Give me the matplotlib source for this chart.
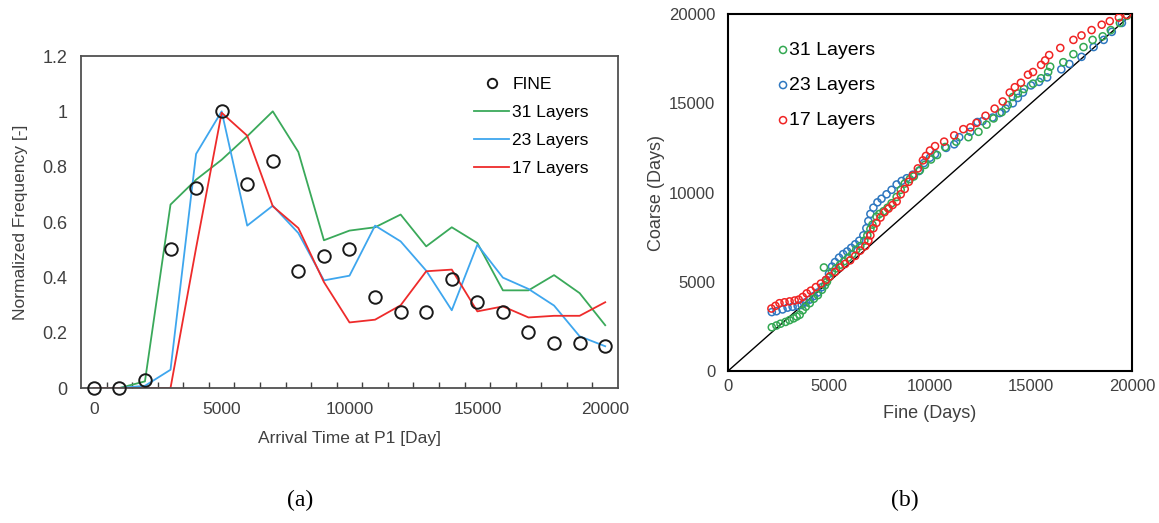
import matplotlib
matplotlib.use("Agg")
import matplotlib.pyplot as plt
from matplotlib.ticker import FixedLocator, FixedFormatter

plt.rcParams['font.family'] = ['Liberation Sans', 'DejaVu Sans']

# ---------------- (a) data ----------------
arrival_time = [0, 1000, 2000, 3000, 4000, 5000, 6000, 7000, 8000, 9000, 10000,
                11000, 12000, 13000, 14000, 15000, 16000, 17000, 18000, 19000, 20000]
fine_freq = [0.0, 0.0, 0.028, 0.504, 0.723, 1.0, 0.739, 0.819, 0.424, 0.478, 0.504,
             0.328, 0.273, 0.273, 0.395, 0.311, 0.273, 0.202, 0.163, 0.163, 0.151]
l31_freq = [0.0, 0.0, 0.024, 0.663, 0.753, 0.825, 0.91, 1.0, 0.853, 0.534, 0.569,
            0.581, 0.627, 0.512, 0.581, 0.524, 0.353, 0.353, 0.408, 0.343, 0.227]
l23_freq = [0.0, 0.0, 0.008, 0.066, 0.846, 1.0, 0.587, 0.659, 0.56, 0.389, 0.406,
            0.587, 0.53, 0.424, 0.281, 0.518, 0.399, 0.358, 0.298, 0.187, 0.151]
l17_freq = [0.0, 0.0, 0.0, 0.0, 0.506, 0.995, 0.912, 0.657, 0.578, 0.383, 0.237,
            0.247, 0.299, 0.422, 0.428, 0.277, 0.295, 0.255, 0.261, 0.261, 0.31]

# ---------------- (b) data ----------------
fine_31 = [2170, 2400, 2600, 2850, 3050, 3250, 3400, 3550, 3700, 3850, 4050, 4250, 4450,
           4650, 4800, 4900, 5000, 4750, 5150, 5350, 5550, 5750, 5950, 6150, 6350, 6550,
           6750, 6900, 7050, 7150, 7350, 7500, 7700, 7900, 8100, 8350, 8550, 8750, 9000,
           9200, 9500, 9750, 10050, 10350, 10750, 11300, 11900, 12400, 12800, 13150,
           13550, 13850, 14100, 14350, 14650, 15100, 15500, 15850, 15950, 16600, 17100,
           17600, 18050, 18550, 18950, 19400, 19750]
coarse_31 = [2450, 2550, 2650, 2750, 2850, 2950, 3050, 3150, 3400, 3600, 3800, 4050, 4250,
             4550, 4800, 5000, 5250, 5800, 5550, 5750, 5950, 6150, 6350, 6550, 6800, 7000,
             7300, 7600, 7950, 8200, 8650, 8800, 8950, 9150, 9400, 9750, 10150, 10500,
             10750, 10900, 11250, 11550, 11850, 12100, 12550, 12850, 13100, 13400, 13800,
             14150, 14500, 14900, 15350, 15550, 15800, 16100, 16400, 16750, 17050, 17300,
             17750, 18150, 18550, 18750, 19100, 19500, 19900]

fine_23 = [2170, 2400, 2700, 2950, 3200, 3450, 3650, 3850, 4050, 4250, 4450, 4650, 4850,
           5000, 5150, 5300, 5500, 5700, 5900, 6100, 6300, 6500, 6700, 6850, 6950, 7050,
           7200, 7400, 7600, 7850, 8100, 8350, 8600, 8850, 9150, 9450, 9700, 10000, 10250,
           10800, 11200, 11450, 12000, 12350, 12600, 13100, 13450, 13750, 14100, 14350,
           14600, 15000, 15400, 15800, 16500, 16900, 17500, 18100, 18600, 19000, 19500]
coarse_23 = [3300, 3350, 3450, 3550, 3600, 3650, 3700, 3850, 4000, 4200, 4400, 4700, 5100,
             5450, 5850, 6100, 6350, 6550, 6700, 6900, 7100, 7300, 7600, 8000, 8400, 8800,
             9150, 9450, 9650, 9900, 10150, 10450, 10650, 10800, 11000, 11200, 11650,
             11950, 12150, 12500, 12700, 13100, 13400, 13950, 14000, 14200, 14450, 14700,
             15000, 15300, 15600, 16000, 16200, 16450, 16900, 17200, 17600, 18150, 18550,
             19000, 19500]

fine_17 = [2150, 2350, 2550, 2800, 3050, 3300, 3500, 3700, 3900, 4100, 4350, 4600, 4850,
           5050, 5300, 5550, 5800, 6050, 6300, 6550, 6800, 6950, 7050, 7200, 7350, 7550,
           7750, 7950, 8150, 8350, 8550, 8750, 8950, 9150, 9400, 9650, 9800, 10000, 10250,
           10700, 11200, 11650, 12000, 12300, 12750, 13200, 13600, 13950, 14200, 14500,
           14850, 15100, 15500, 15700, 15900, 16450, 17100, 17500, 18000, 18500, 18900,
           19350, 19750]
coarse_17 = [3500, 3650, 3800, 3850, 3900, 3950, 4000, 4150, 4350, 4500, 4700, 4900, 5100,
             5300, 5550, 5800, 6000, 6200, 6450, 6750, 7000, 7300, 7600, 8000, 8300, 8600,
             8900, 9100, 9300, 9500, 9900, 10200, 10600, 10950, 11350, 11800, 12050, 12350,
             12600, 12850, 13200, 13550, 13650, 13900, 14300, 14700, 15100, 15600, 15900,
             16150, 16600, 16750, 17150, 17400, 17700, 18100, 18550, 18800, 19100, 19400,
             19600, 19800, 19950]

GREEN_A, BLUE_A, RED_A = '#3aa95a', '#3ea6ee', '#ee2b2b'
GREEN_B, BLUE_B, RED_B = '#33a852', '#2f78c0', '#f02424'

fig = plt.figure(figsize=(11.59, 5.23), dpi=100)

# ---------- (a) ----------
axa = fig.add_axes([0.0699, 0.2581, 0.4633, 0.6348])
axa.plot(arrival_time, l31_freq, color=GREEN_A, lw=1.3, label='31 Layers', zorder=2)
axa.plot(arrival_time, l23_freq, color=BLUE_A, lw=1.3, label='23 Layers', zorder=2)
axa.plot(arrival_time, l17_freq, color=RED_A, lw=1.3, label='17 Layers', zorder=2)
axa.plot(arrival_time, fine_freq, linestyle='none', marker='o', ms=9, mfc='none',
         mec='#1a1a1a', mew=1.4, label='FINE', zorder=3, clip_on=False)
axa.set_xlim(-500, 20500)
axa.set_ylim(0, 1.2)
axa.xaxis.set_major_locator(FixedLocator([0, 5000, 10000, 15000, 20000]))
axa.xaxis.set_minor_locator(FixedLocator(list(range(500, 20000, 1000))))
axa.tick_params(axis='x', which='major', length=0, pad=10, labelsize=12.5, colors='#404040')
axa.tick_params(axis='x', which='minor', direction='in', length=4, width=1, color='#404040')
axa.yaxis.set_major_locator(FixedLocator([0, 0.2, 0.4, 0.6, 0.8, 1.0, 1.2]))
axa.yaxis.set_major_formatter(FixedFormatter(['0', '0.2', '0.4', '0.6', '0.8', '1', '1.2']))
axa.tick_params(axis='y', length=0, pad=10, labelsize=13, colors='#404040')
for s in axa.spines.values():
    s.set_color('#505050')
    s.set_linewidth(1.3)
axa.set_xlabel('Arrival Time at P1 [Day]', fontsize=12.5, color='#404040', labelpad=10)
axa.set_ylabel('Normalized Frequency [-]', fontsize=12.5, color='#404040', labelpad=10)
h, l = axa.get_legend_handles_labels()
order = [3, 0, 1, 2]
axa.legend([h[i] for i in order], [l[i] for i in order], loc='upper right',
           bbox_to_anchor=(0.975, 0.985), frameon=False, fontsize=12.5,
           handlelength=2.0, handletextpad=0.2, labelspacing=0.75, markerscale=0.75)

# ---------- (b) ----------
axb = fig.add_axes([0.6281, 0.2906, 0.3486, 0.6826])
axb.plot([0, 20000], [0, 20000], color='black', lw=1.0, zorder=1)
axb.scatter(fine_31, coarse_31, s=26, facecolors='none', edgecolors=GREEN_B, linewidths=1.1,
            label='31 Layers', zorder=3)
axb.scatter(fine_23, coarse_23, s=26, facecolors='none', edgecolors=BLUE_B, linewidths=1.1,
            label='23 Layers', zorder=2)
axb.scatter(fine_17, coarse_17, s=26, facecolors='none', edgecolors=RED_B, linewidths=1.1,
            label='17 Layers', zorder=4)
axb.set_xlim(0, 20000)
axb.set_ylim(0, 20000)
axb.set_xticks([0, 5000, 10000, 15000, 20000])
axb.set_yticks([0, 5000, 10000, 15000, 20000])
axb.tick_params(axis='x', length=0, labelsize=12, colors='#404040', pad=6)
axb.tick_params(axis='y', length=0, labelsize=12, colors='#404040', pad=9)
for s in axb.spines.values():
    s.set_color('black')
    s.set_linewidth(1.5)
axb.set_xlabel('Fine (Days)', fontsize=13, color='#404040', labelpad=8)
axb.set_ylabel('Coarse (Days)', fontsize=13, color='#404040', labelpad=3)
axb.legend(loc='upper left', bbox_to_anchor=(0.105, 0.945), frameon=False, fontsize=14,
           handlelength=0.5, handletextpad=0.05, labelspacing=0.9, borderaxespad=0)

# panel labels
fig.text(0.259, 0.044, '(a)', fontsize=17, family='Liberation Serif', ha='center', va='center')
fig.text(0.781, 0.044, '(b)', fontsize=17, family='Liberation Serif', ha='center', va='center')

fig.savefig('out.png', dpi=100)
